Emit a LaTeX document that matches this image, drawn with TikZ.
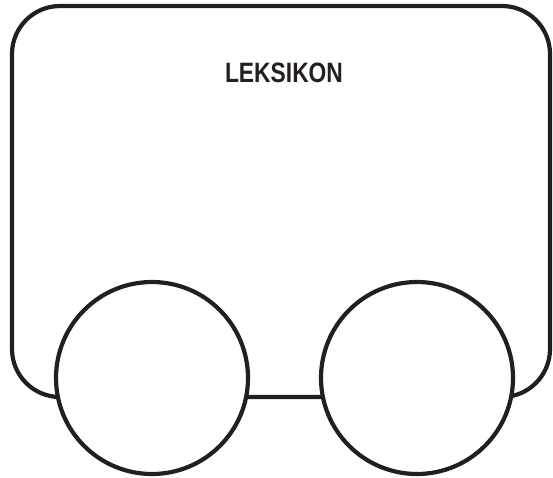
\documentclass[tikz,border=0pt]{standalone}
\usepackage{fontspec}
\setmainfont{Liberation Sans}
\definecolor{ink}{HTML}{231F20}
\begin{document}
\begin{tikzpicture}[x=1pt,y=-1pt,
  frame/.style={draw=ink,line width=4.2pt,rounded corners=48pt},
  wheel/.style={draw=ink,fill=white,line width=4.2pt,circle,minimum size=192pt,inner sep=0pt},
  label/.style={text=ink,font=\bfseries\fontsize{28}{30}\selectfont,xscale=0.815,inner sep=0pt}]
\useasboundingbox (0,0) rectangle (553,477);
\draw[frame] (12,6) rectangle (550,397);
\node[wheel] (left) at (152,378) {};
\node[wheel] (right) at (417,378) {};
\node[label] (title) at (284,73) {LEKSIKON};
\end{tikzpicture}
\end{document}
